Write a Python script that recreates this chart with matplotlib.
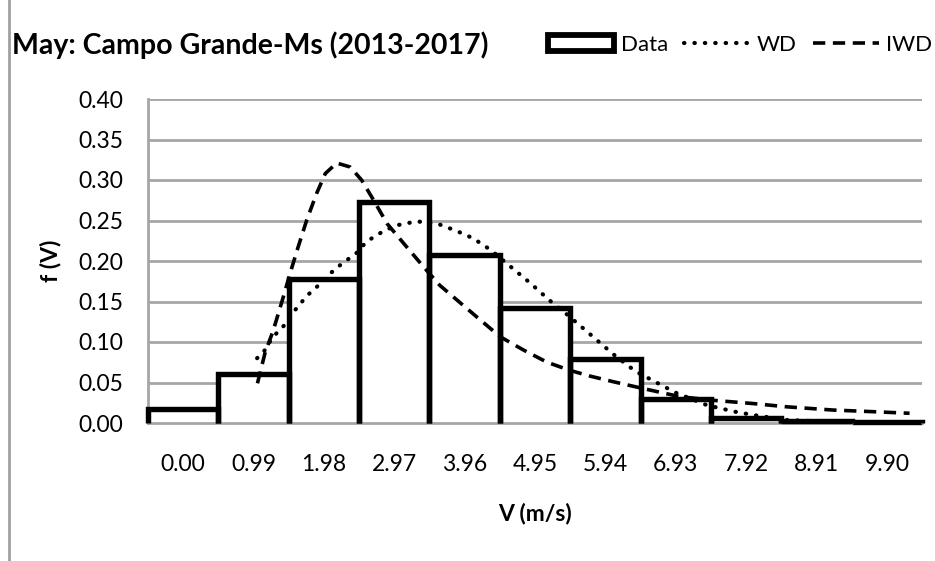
import matplotlib
matplotlib.use("Agg")
import matplotlib.pyplot as plt
from matplotlib.lines import Line2D
from matplotlib.patches import Patch

# ---- data ----
categories = ["0.00", "0.99", "1.98", "2.97", "3.96", "4.95", "5.94", "6.93", "7.92", "8.91", "9.90"]
cat_step = 0.99
data_f = [0.017, 0.061, 0.178, 0.273, 0.207, 0.142, 0.079, 0.030, 0.006, 0.002, 0.001]

wd_v = [1.04, 1.15, 1.25, 1.36, 1.46, 1.58, 1.74, 1.93, 2.02, 2.21, 2.44, 2.58, 2.82, 3.00,
        3.29, 3.61, 3.85, 4.08, 4.32, 4.88, 5.16, 5.40, 5.68, 6.05, 6.36, 6.68, 6.94, 7.37,
        7.76, 8.02, 8.49, 9.20, 10.27]
wd_f = [0.080, 0.090, 0.105, 0.115, 0.124, 0.140, 0.157, 0.172, 0.181, 0.195, 0.210, 0.224,
        0.237, 0.244, 0.249, 0.245, 0.237, 0.228, 0.214, 0.173, 0.151, 0.134, 0.113, 0.085,
        0.064, 0.049, 0.037, 0.022, 0.014, 0.0099, 0.0037, 0.0012, 0.0004]

iwd_v = [1.045, 1.15, 1.27, 1.41, 1.505, 1.62, 1.74, 1.88, 2.00, 2.16, 2.35, 2.51, 2.68,
         2.87, 3.10, 3.38, 3.61, 3.85, 4.13, 4.46, 4.79, 5.12, 5.44, 5.72, 6.05, 6.50,
         6.99, 7.46, 8.02, 8.49, 9.14, 9.70, 10.22]
iwd_f = [0.049, 0.086, 0.115, 0.156, 0.185, 0.218, 0.251, 0.284, 0.308, 0.321, 0.316, 0.300,
         0.275, 0.246, 0.222, 0.193, 0.170, 0.152, 0.131, 0.1065, 0.090, 0.075, 0.065, 0.058,
         0.051, 0.042, 0.0325, 0.028, 0.024, 0.020, 0.016, 0.014, 0.012]

y_ticks = [0.00, 0.05, 0.10, 0.15, 0.20, 0.25, 0.30, 0.35, 0.40]

title = "May: Campo Grande-Ms (2013-2017)"
xlabel = "V (m/s)"
ylabel = "f (V)"

# ---- figure ----
W, H = 935, 561
fig = plt.figure(figsize=(W / 100, H / 100), dpi=100)
plt.rcParams["font.family"] = ["Lato", "DejaVu Sans"]

ax = fig.add_axes([148 / W, 1 - 423 / H, (922 - 148) / W, (423 - 99) / H])

grid_col = "#a6a6a6"
ax.set_ylim(0, 0.40)
ax.set_xlim(-0.5, len(categories) - 0.5)
ax.set_yticks(y_ticks)
ax.set_yticklabels([f"{t:.2f}" for t in y_ticks])
ax.set_xticks(range(len(categories)))
ax.set_xticklabels(categories)
ax.yaxis.grid(True, color=grid_col, lw=2.0)
ax.set_axisbelow(True)
ax.tick_params(axis="both", length=0, labelsize=16.5, colors="black")
ax.tick_params(axis="x", pad=22)
ax.tick_params(axis="y", pad=18)
for s in ["top", "right"]:
    ax.spines[s].set_visible(False)
for s in ["left", "bottom"]:
    ax.spines[s].set_color(grid_col)
    ax.spines[s].set_linewidth(2.0)

# bars: white fill + black outline without bottom edge
xs = list(range(len(categories)))
ax.bar(xs, data_f, width=1.0, color="white", edgecolor="none", zorder=2)
for x, h in zip(xs, data_f):
    ax.plot([x - 0.5, x - 0.5, x + 0.5, x + 0.5], [0, h, h, 0], color="black",
            lw=3.9, solid_joinstyle="miter", solid_capstyle="butt", zorder=3, clip_on=False)

# curves
dot_style = (0, (0.1, 2.4))
dash_style = (0, (3.4, 2.1))
wd_x = [v / cat_step for v in wd_v]
iwd_x = [v / cat_step for v in iwd_v]
ax.plot(wd_x, wd_f, color="black", lw=3.0, linestyle=dot_style,
        dash_capstyle="round", zorder=4)
ax.plot(iwd_x, iwd_f, color="black", lw=2.6, linestyle=dash_style, zorder=4)

ax.set_xlabel(xlabel, fontsize=16.5, fontweight="bold", labelpad=20)
ax.set_ylabel(ylabel, fontsize=16.5, fontweight="bold", labelpad=12)

fig.text(12 / W, 1 - 45 / H, title, fontsize=20.5, fontweight="bold", va="center", ha="left")

handles = [
    Patch(facecolor="white", edgecolor="black", lw=4.2),
    Line2D([0], [0], color="black", lw=3.0, linestyle=dot_style, dash_capstyle="round"),
    Line2D([0], [0], color="black", lw=2.6, linestyle=dash_style),
]
fig.legend(handles, ["Data", "WD", "IWD"], loc="center right",
           bbox_to_anchor=(932 / W, 1 - 45 / H), ncol=3, frameon=False,
           fontsize=16, handlelength=3.0, handleheight=0.7, handletextpad=0.3,
           columnspacing=0.7, borderaxespad=0, borderpad=0)

# outer chart border (left edge visible)
fig.add_artist(Line2D([8.5 / W, 8.5 / W], [0, 1], transform=fig.transFigure,
                      color="#a0a0a0", lw=2.0))

fig.savefig("out.png", dpi=100)
